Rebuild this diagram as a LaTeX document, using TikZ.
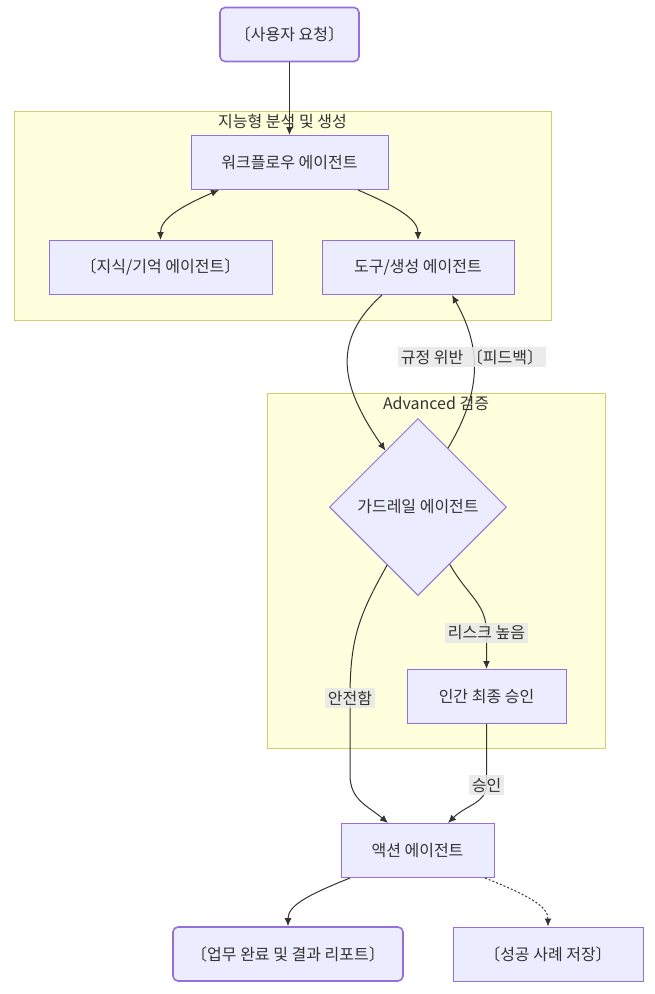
\documentclass[tikz,border=0pt]{standalone}
\usepackage{fontspec}
\setmainfont{Noto Sans CJK KR}
\usetikzlibrary{arrows.meta,shapes.geometric}
\definecolor{nodefill}{HTML}{ECECFF}
\definecolor{nodeline}{HTML}{9370DB}
\definecolor{grpfill}{HTML}{FFFFDE}
\definecolor{grpline}{HTML}{CFCF6E}
\definecolor{lblfill}{HTML}{E8E8E8}
\definecolor{txt}{HTML}{333333}
\tikzset{block/.style = {draw=nodeline, fill=nodefill, line width=1pt, rectangle, minimum height=54pt, inner sep=0pt, text=txt, font=\fontsize{16}{19}\selectfont},
         rblock/.style = {block, rounded corners=5pt, line width=1.6pt},
         decision/.style = {draw=nodeline, fill=nodefill, line width=1pt, diamond, aspect=1, minimum width=177pt, minimum height=177pt, inner sep=0pt, text=txt, font=\fontsize{16}{19}\selectfont},
         cluster/.style = {draw=grpline, fill=grpfill, line width=1pt, rectangle, inner sep=0pt},
         grouptitle/.style = {anchor=north, inner sep=3.5pt, text=txt, font=\fontsize{16}{19}\selectfont},
         elabel/.style = {fill=lblfill, fill opacity=0.85, text opacity=1, inner sep=2.5pt, text=txt, font=\fontsize{16}{19}\selectfont},
         wire/.style = {draw=txt, line width=1pt}}

\begin{document}
\begin{tikzpicture}[x=1pt,y=-1pt,>={Latex[length=8pt,width=7pt]}]
        \useasboundingbox(0,0)rectangle(655,994);

        \node[cluster,minimum width=537pt,minimum height=209pt](g1)at(282.5,215.5){};
        \node[grouptitle](g1t)at(g1.north){지능형 분석 및 생성};
        \node[cluster,minimum width=338pt,minimum height=355pt](g2)at(436,570.5){};
        \node[grouptitle](g2t)at(g2.north){Advanced 검증};

        \node[rblock,minimum width=139pt](req)at(289.5,34.5){〔사용자 요청〕};
        \node[block,minimum width=197pt](wf)at(289.5,162.5){워크플로우 에이전트};
        \node[block,minimum width=223pt](kn)at(160.5,267.5){〔지식/기억 에이전트〕};
        \node[block,minimum width=192pt](tl)at(418,267.5){도구/생성 에이전트};
        \node[decision](gd)at(418,507){가드레일 에이전트};
        \node[block,minimum width=159pt](hm)at(486.5,696.5){인간 최종 승인};
        \node[block,minimum width=153pt](ac)at(417.5,850.5){액션 에이전트};
        \node[rblock,minimum width=230pt](rp)at(288,954){〔업무 완료 및 결과 리포트〕};
        \node[block,minimum width=190pt](sv)at(548,954){〔성공 사례 저장〕};

        \coordinate(rkp)at(486.5,633);
        \coordinate(sfp)at(350,698);
        \coordinate(apv)at(486.5,785);

        \draw[wire,->](req)--(wf);
        \draw[wire,<->]([xshift=-70.5pt]wf.south)..controls+(-42,18)and+(0,-20)..(kn.north);
        \draw[wire,->]([xshift=68.5pt]wf.south)..controls+(42,18)and+(0,-20)..(tl.north);
        \draw[wire,->]([xshift=-36pt]tl.south)..controls+(-50,45)and+(-46,-66)..(gd.120);
        \draw[wire,->](gd.63)..controls+(36,-60)and+(28,50)..([xshift=34pt]tl.south);
        \draw[wire,->](gd.-118)..controls+(-28,50)and+(0,-60)..(sfp)--++(0,77)..controls+(0,25)and+(-20,-17)..([xshift=-29.5pt]ac.north);
        \draw[wire,->](gd.-61)..controls+(18,32)and+(0,-30)..(rkp)--(hm.north);
        \draw[wire,->](hm.south)--(apv)..controls+(0,18)and+(18,-18)..([xshift=30.5pt]ac.north);
        \draw[wire,->]([xshift=-67.5pt]ac.south)..controls+(-45,18)and+(0,-20)..(rp.north);
        \draw[wire,->,dash pattern=on 2pt off 2pt]([xshift=67.5pt]ac.south)..controls+(45,18)and+(0,-20)..(sv.north);

        \node[elabel](fb)at(472,357){규정 위반 〔피드백〕};
        \node[elabel](rk)at(rkp){리스크 높음};
        \node[elabel](sf)at(sfp){안전함};
        \node[elabel](ap)at(apv){승인};
\end{tikzpicture}
\end{document}
